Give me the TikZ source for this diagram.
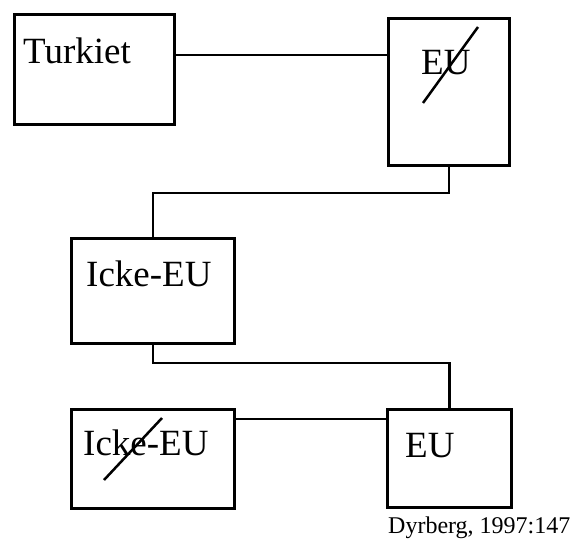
\documentclass[tikz,border=0pt]{standalone}
\usepackage{fontspec}
\setmainfont{Liberation Serif}
\begin{document}
\begin{tikzpicture}[x=1pt,y=-1pt,
  box/.style={draw=black,line width=3pt,fill=white,inner sep=0pt,anchor=north west},
  lbl/.style={inner sep=0pt,anchor=base west,font=\fontsize{37}{40}\selectfont},
  srctext/.style={inner sep=0pt,anchor=base west,font=\fontsize{24}{26}\selectfont},
  conn/.style={draw=black,line width=2.5pt},
  strikeline/.style={draw=black,line width=2.5pt}]
\useasboundingbox[fill=white] (0,0) rectangle (576,541);
% boxes
\node[box,minimum width=160pt,minimum height=110pt] (tur) at (13,13) {};
\node[box,minimum width=121pt,minimum height=147pt] (eu1) at (387,17) {};
\node[box,minimum width=163pt,minimum height=105pt] (ick) at (70,237) {};
\node[box,minimum width=163pt,minimum height=99pt] (ick2) at (70,408) {};
\node[box,minimum width=124pt,minimum height=98pt] (eu2) at (386,408) {};
% labels
\node[lbl] (ttur) at (23,63) {Turkiet};
\node[lbl] (teu1) at (421,74) {EU};
\node[lbl] (tick) at (86,286) {Icke-EU};
\node[lbl] (tick2) at (83,455) {Icke-EU};
\node[lbl] (teu2) at (405,457) {EU};
\node[srctext] (src) at (388,533) {Dyrberg, 1997:147};
% strike-through lines
\coordinate (s1a) at (423,103);
\coordinate (s1b) at (478,27);
\coordinate (s2a) at (104,480);
\coordinate (s2b) at (162,418);
\draw[strikeline] (s1a) -- (s1b);
\draw[strikeline] (s2a) -- (s2b);
% connectors
\coordinate (j0) at (280,55);
\coordinate (j1) at (300,193);
\coordinate (j2) at (300,363);
\coordinate (j3) at (310,419);
\draw[conn] (tur.east |- j0) -- (eu1.west |- j0);
\draw[conn] (eu1.south) |- (j1) -| (ick.north);
\draw[conn] (ick.south) |- (j2) -| (eu2.north);
\draw[conn] (ick2.east |- j3) -- (eu2.west |- j3);
\end{tikzpicture}
\end{document}
